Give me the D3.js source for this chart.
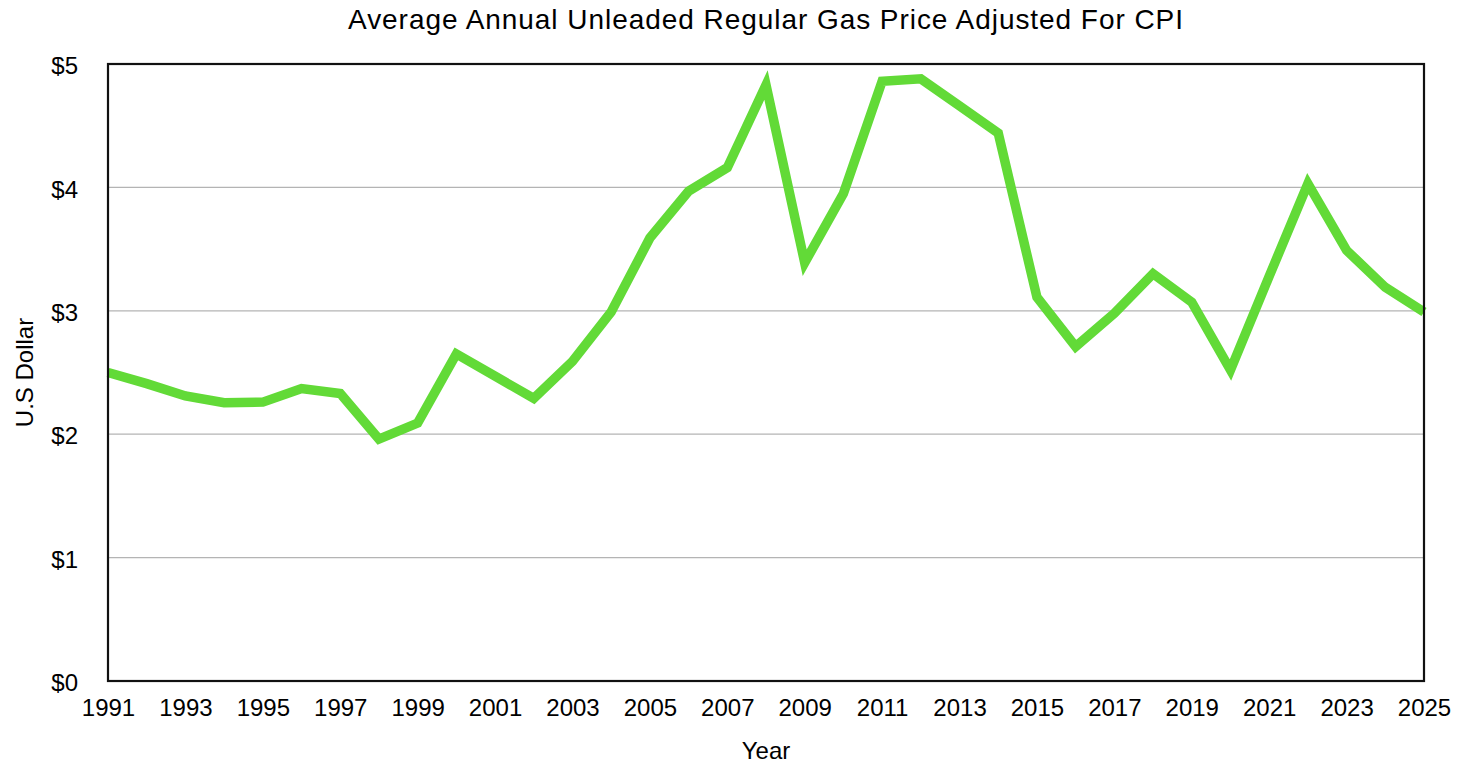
<!DOCTYPE html>
<html>
<head>
<meta charset="utf-8">
<script src="https://cdn.jsdelivr.net/npm/d3@7"></script>
<style>
  body { margin: 0; background: #fff; }
  text { font-family: "Liberation Sans", Arial, Helvetica, sans-serif; fill: #000; }
</style>
</head>
<body>
<svg id="chart" width="1474" height="780"></svg>
<script>
// data
const years = d3.range(1991, 2026);
const prices = [
  2.50, 2.41, 2.31, 2.255, 2.26, 2.37, 2.33, 1.96, 2.09, 2.65,
  2.47, 2.29, 2.59, 2.99, 3.59, 3.97, 4.16, 4.83, 3.39, 3.95,
  4.86, 4.88, 4.66, 4.44, 3.11, 2.71, 2.98, 3.30, 3.07, 2.52,
  3.28, 4.03, 3.49, 3.19, 2.99
];
const yearTicks = d3.range(1991, 2026, 2);
const priceTicks = [0, 1, 2, 3, 4, 5];

const margin = { top: 64, right: 50, bottom: 99, left: 108 };
const width = 1474;
const height = 780;

const svg = d3.select('#chart');

const x = d3.scaleLinear()
  .domain([1991, 2025])
  .range([margin.left, width - margin.right]);

const y = d3.scaleLinear()
  .domain([0, 5])
  .range([height - margin.bottom, margin.top]);

// gridlines
svg.append('g')
  .selectAll('line')
  .data(priceTicks.slice(1, -1))
  .join('line')
  .attr('x1', margin.left)
  .attr('x2', width - margin.right)
  .attr('y1', d => y(d))
  .attr('y2', d => y(d))
  .attr('stroke', '#b4b4b4')
  .attr('stroke-width', 1.2);

// line
const line = d3.line()
  .x((d, i) => x(years[i]))
  .y(d => y(d));

svg.append('path')
  .attr('d', line(prices))
  .attr('fill', 'none')
  .attr('stroke', '#62da37')
  .attr('stroke-width', 9.5)
  .attr('stroke-linejoin', 'miter')
  .attr('stroke-miterlimit', 4);

// frame
svg.append('rect')
  .attr('x', margin.left)
  .attr('y', margin.top)
  .attr('width', width - margin.right - margin.left)
  .attr('height', height - margin.bottom - margin.top)
  .attr('fill', 'none')
  .attr('stroke', '#111')
  .attr('stroke-width', 2.2);

// axes
const xAxis = d3.axisBottom(x)
  .tickValues(yearTicks)
  .tickFormat(d3.format('d'))
  .tickSize(0)
  .tickPadding(18);

const gx = svg.append('g')
  .attr('transform', `translate(0,${height - margin.bottom})`)
  .call(xAxis);
gx.select('.domain').remove();
gx.selectAll('text').attr('font-size', 24).style('font-family', null);

const yAxis = d3.axisLeft(y)
  .tickValues(priceTicks)
  .tickFormat(d => '$' + d)
  .tickSize(0)
  .tickPadding(30);

const gy = svg.append('g')
  .attr('transform', `translate(${margin.left},0)`)
  .call(yAxis);
gy.select('.domain').remove();
gy.selectAll('text')
  .attr('font-size', 24)
  .attr('dy', '0.4em')
  .style('font-family', null);

// title and axis labels
svg.append('text')
  .attr('x', (margin.left + width - margin.right) / 2)
  .attr('y', 29)
  .attr('text-anchor', 'middle')
  .attr('font-size', 28)
  .attr('letter-spacing', 0.95)
  .text('Average Annual Unleaded Regular Gas Price Adjusted For CPI');

svg.append('text')
  .attr('x', (margin.left + width - margin.right) / 2)
  .attr('y', 759)
  .attr('text-anchor', 'middle')
  .attr('font-size', 24)
  .text('Year');

svg.append('text')
  .attr('transform', `translate(33,${(margin.top + height - margin.bottom) / 2}) rotate(-90)`)
  .attr('text-anchor', 'middle')
  .attr('font-size', 24)
  .text('U.S Dollar');
</script>
</body>
</html>
